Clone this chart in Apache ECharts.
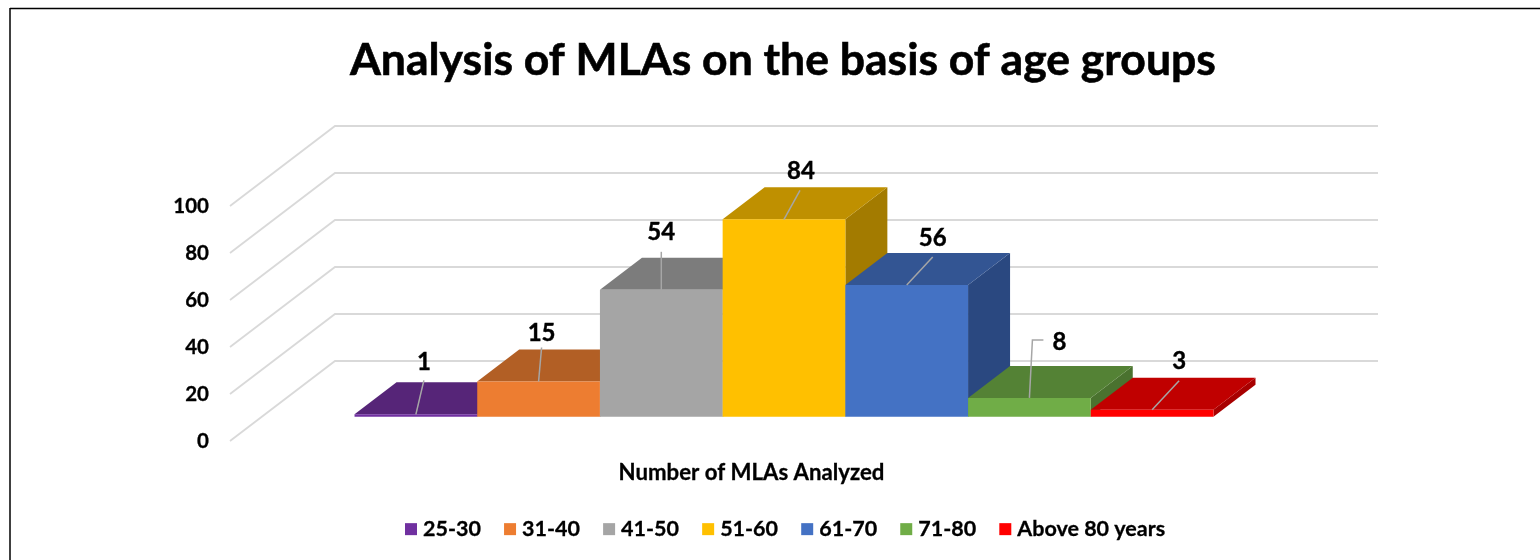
<!DOCTYPE html>
<html>
<head>
<meta charset="utf-8">
<style>html,body{margin:0;padding:0;background:#fff}#c{width:1540px;height:560px}</style>
<script src="https://cdn.jsdelivr.net/npm/echarts@6/dist/echarts.min.js"></script>
</head>
<body>
<div id="c"></div>
<script>
var titleText = 'Analysis of MLAs on the basis of age groups';
var categories = ['Number of MLAs Analyzed'];
var seriesNames = ['25-30', '31-40', '41-50', '51-60', '61-70', '71-80', 'Above 80 years'];
var seriesValues = [1, 15, 54, 84, 56, 8, 3];
var yTicks = [0, 20, 40, 60, 80, 100];
var frontColors = ['#7030A0', '#ED7D31', '#A5A5A5', '#FFC000', '#4472C4', '#70AD47', '#FF0000'];
var topColors = ['#562578', '#B25F25', '#7C7C7C', '#BF9000', '#335593', '#548235', '#C00000'];
var sideColors = ['#4A1F68', '#9A5220', '#6A6A6A', '#A37B00', '#2A4880', '#4A722F', '#A80000'];
// leader paths and label spots, relative to the top-front-centre of each bar
var leaderPaths = [
  [[8, -34]], [[3, -34]], [[0, -38]], [[16, -29]], [[26, -28]], [[3, -58], [14, -58]], [[27, -29]]
];
var labelSpots = [[8, -52], [3, -48], [0, -58], [17, -48], [26, -47], [30, -56], [27, -48]];

var FONT = 'Lato, Carlito, "Open Sans", sans-serif';
var WALL_DX = 105, WALL_DY = 80;      // floor depth
var BAR_DX = 42, BAR_DY = 32;         // bar depth
var FRONT_DX = 32.5, FRONT_DY = 24.3; // front plane of bars, from the axis plane
var GAP = 1.5;                        // gap width in bar widths

function renderWall(params, api) {
  var p = api.coord([0, api.value(1)]);
  var x0 = params.coordSys.x, w = params.coordSys.width;
  return {
    type: 'polyline', silent: true,
    shape: { points: [[x0, p[1]], [x0 + WALL_DX, p[1] - WALL_DY], [x0 + WALL_DX + w, p[1] - WALL_DY]] },
    style: { fill: null, stroke: '#D9D9D9', lineWidth: 1.8 }
  };
}

function renderBar(params, api) {
  var s = params.seriesIndex - 1;
  var v = api.value(1);
  var band = api.size([1, 0])[0];
  var bw = band / (seriesValues.length + GAP);
  var c = api.coord([0, v]);
  var base = api.coord([0, 0]);
  var left = c[0] - bw * seriesValues.length / 2 + bw * s + FRONT_DX;
  var right = left + bw;
  var top = c[1] - FRONT_DY, bot = base[1] - FRONT_DY;
  var mid = left + bw / 2;
  var path = [[mid, top]].concat(leaderPaths[s].map(function (o) { return [mid + o[0], top + o[1]]; }));
  return {
    type: 'group',
    children: [
      { type: 'polygon', shape: { points: [[right, top], [right + BAR_DX, top - BAR_DY], [right + BAR_DX, bot - BAR_DY], [right, bot]] }, style: { fill: sideColors[s] } },
      { type: 'polygon', shape: { points: [[left, top], [left + BAR_DX, top - BAR_DY], [right + BAR_DX, top - BAR_DY], [right, top]] }, style: { fill: topColors[s] } },
      { type: 'rect', shape: { x: left, y: top, width: bw, height: bot - top }, style: { fill: frontColors[s] } },
      { type: 'polyline', z2: 5, shape: { points: path }, style: { fill: null, stroke: '#A6A6A6', lineWidth: 1.5 } },
      { type: 'text', z2: 6, x: mid + labelSpots[s][0], y: top + labelSpots[s][1],
        style: { text: String(v), fill: '#000', font: 'bold 24px ' + FONT, textAlign: 'center', textVerticalAlign: 'middle', stroke: '#000', lineWidth: 0.4 } }
    ]
  };
}

var series = [{
  type: 'custom', name: 'walls', silent: true, renderItem: renderWall,
  data: yTicks.map(function (t) { return [0, t]; }), encode: { x: 0, y: 1 }, clip: false
}].concat(seriesNames.map(function (n, i) {
  return {
    type: 'custom', name: n, renderItem: renderBar, clip: false,
    itemStyle: { color: frontColors[i] },
    data: [[0, seriesValues[i]]], encode: { x: 0, y: 1 }
  };
}));

var chart = echarts.init(document.getElementById('c'), null, { renderer: 'canvas' });
chart.setOption({
  animation: false,
  backgroundColor: '#fff',
  title: {
    text: titleText, left: 350, top: 38, padding: 0,
    textStyle: { fontFamily: FONT, fontWeight: 'bold', fontSize: 44.5, color: '#000', textBorderColor: '#000', textBorderWidth: 0.6 }
  },
  grid: { left: 230, top: 206, width: 1043, height: 235, containLabel: false },
  xAxis: {
    type: 'category', data: categories,
    axisLine: { show: false }, axisTick: { show: false }, splitLine: { show: false },
    axisLabel: { margin: 21, color: '#000', fontFamily: FONT, fontWeight: 'bold', fontSize: 22.2, textBorderColor: '#000', textBorderWidth: 0.3 }
  },
  yAxis: {
    type: 'value', min: 0, max: 100, interval: 20,
    axisLine: { show: false }, axisTick: { show: false }, splitLine: { show: false },
    axisLabel: { margin: 21, color: '#000', fontFamily: FONT, fontWeight: 'bold', fontSize: 20.5, padding: [4, 0, 0, 0], textBorderColor: '#000', textBorderWidth: 0.3 }
  },
  legend: {
    data: seriesNames, left: 405, top: 518, icon: 'rect', itemWidth: 12, itemHeight: 12, itemGap: 23,
    padding: 0, selectedMode: false,
    textStyle: { color: '#000', fontFamily: FONT, fontWeight: 'bold', fontSize: 21.5, padding: [0, 0, 0, 1], textBorderColor: '#000', textBorderWidth: 0.3 }
  },
  graphic: [
    { type: 'line', silent: true, shape: { x1: 10, y1: 8.5, x2: 1540, y2: 8.5 }, style: { stroke: '#000', lineWidth: 1.5 } },
    { type: 'line', silent: true, shape: { x1: 10, y1: 8, x2: 10, y2: 560 }, style: { stroke: '#000', lineWidth: 1.5 } }
  ],
  series: series
});
</script>
</body>
</html>
